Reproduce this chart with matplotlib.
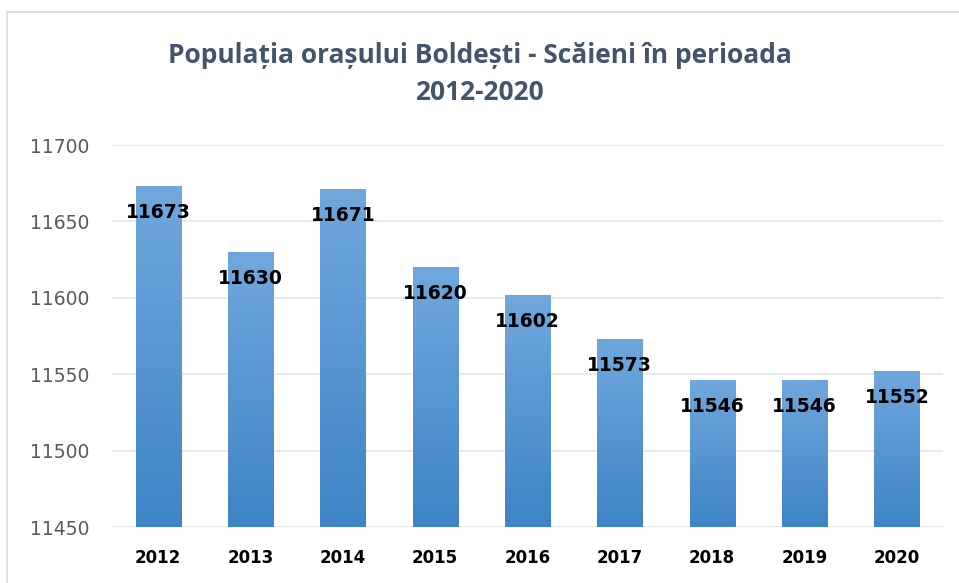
import numpy as np
import matplotlib.pyplot as plt
from matplotlib.patches import Rectangle

# data
years = ['2012', '2013', '2014', '2015', '2016', '2017', '2018', '2019', '2020']
population = [11673, 11630, 11671, 11620, 11602, 11573, 11546, 11546, 11552]
y_ticks = [11450, 11500, 11550, 11600, 11650, 11700]

TOP_COLOR = np.array([0x70, 0xA8, 0xDD]) / 255
BOT_COLOR = np.array([0x3E, 0x84, 0xC6]) / 255

fig = plt.figure(figsize=(9.59, 5.83), dpi=100, facecolor='white')
ax = fig.add_axes([112 / 959, 1 - 527 / 583, (943 - 112) / 959, (527 - 145) / 583])

# outer frame of the chart area
fig.patches.append(Rectangle((7 / 959, -0.01), 1.0, 1 - 12 / 583 + 0.01,
                             transform=fig.transFigure, fill=False,
                             edgecolor='#D9D9D9', linewidth=1.2))

x = np.arange(len(years))
bars = ax.bar(x, np.array(population) - y_ticks[0], bottom=y_ticks[0], width=0.49,
              color='none', edgecolor='none', zorder=2)

# vertical gradient inside every bar
grad = np.linspace(0, 1, 256)[:, None, None]
img = TOP_COLOR * (1 - grad) + BOT_COLOR * grad
for b in bars:
    x0, y0 = b.get_x(), b.get_y()
    im = ax.imshow(img, extent=(x0, x0 + b.get_width(), y0, y0 + b.get_height()),
                   aspect='auto', origin='upper', zorder=2)
    im.set_clip_path(b)

for xi, v in zip(x, population):
    ax.annotate(str(v), (xi, v), xytext=(0, -19), textcoords='offset points',
                ha='center', va='center', fontsize=13.5, fontweight='bold',
                color='black', family='DejaVu Sans', zorder=3)

ax.set_xlim(-0.5, len(years) - 0.5)
ax.set_ylim(y_ticks[0], y_ticks[-1])
ax.set_yticks(y_ticks)
ax.set_yticklabels([str(t) for t in y_ticks])
ax.set_xticks(x)
ax.set_xticklabels(years, fontweight='bold', fontsize=12, color='black')
ax.grid(axis='y', color='#E3E7EE', linewidth=1.2, zorder=0)
ax.set_axisbelow(True)
for s in ax.spines.values():
    s.set_visible(False)
ax.tick_params(axis='both', length=0)
ax.tick_params(axis='y', labelsize=13.5, labelcolor='#595959', pad=16)
ax.tick_params(axis='x', pad=16)

fig.text(0.5, 1 - 74 / 583, 'Populația orașului Boldești - Scăieni în perioada\n2012-2020',
         ha='center', va='center', fontsize=19, fontweight='bold', color='#44546A',
         family='Open Sans', linespacing=1.45)

fig.savefig('out.png', dpi=100, facecolor='white')
